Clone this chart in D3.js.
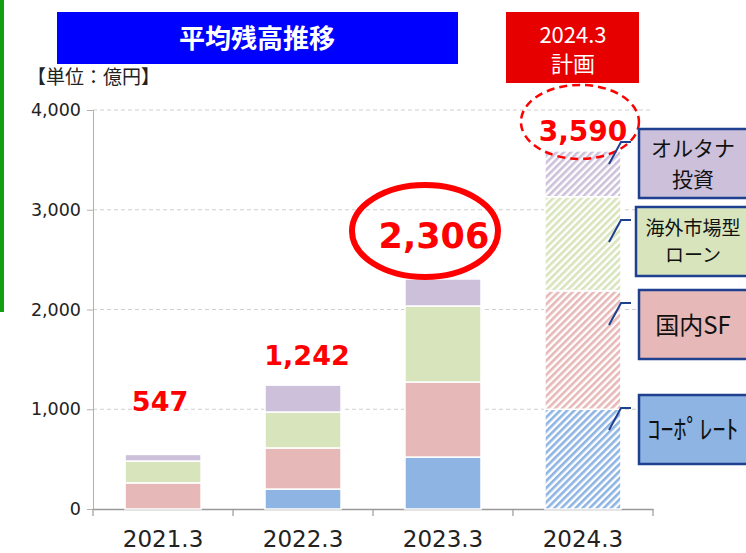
<!DOCTYPE html>
<html lang="ja">
<head>
<meta charset="utf-8">
<title>平均残高推移</title>
<script src="https://d3js.org/d3.v7.min.js"></script>
<style>
  body { margin: 0; background: #fff; }
  svg { display: block; }
</style>
</head>
<body>
<div id="chart"></div>
<script>
// data
var categories = ['2021.3', '2022.3', '2023.3', '2024.3'];
var seriesNames = ['コーポレート', '国内SF', '海外市場型ローン', 'オルタナ投資'];
var corporate = [0, 200, 521, 1000];
var domesticSF = [262, 412, 752, 1187];
var overseasLoan = [219, 360, 762, 943];
var alternative = [66, 270, 271, 460];
var totals = [547, 1242, 2306, 3590];
var yTicks = [0, 1000, 2000, 3000, 4000];
var planIndex = 3;       // hatched (plan) bar
var highlightIndex = 2;  // circled actual

var colors = ['#8db4e2', '#e6b8b7', '#d8e4bc', '#ccc0da'];
var jp = '"Noto Sans CJK JP", "Noto Sans", sans-serif';
var num = '"DejaVu Sans", Verdana, sans-serif';

var width = 746, height = 553;

var svg = d3.select('#chart').append('svg')
    .attr('width', width)
    .attr('height', height);

var defs = svg.append('defs');
colors.forEach(function(c, i) {
    var p = defs.append('pattern')
        .attr('id', 'hatch' + i)
        .attr('patternUnits', 'userSpaceOnUse')
        .attr('width', 5)
        .attr('height', 5)
        .attr('patternTransform', 'rotate(45)');
    p.append('rect').attr('width', 5).attr('height', 5).attr('fill', '#fff');
    p.append('rect').attr('width', 2.6).attr('height', 5).attr('fill', c);
});

// green side bar
svg.append('rect').attr('x', 0).attr('y', 0).attr('width', 4).attr('height', 312).attr('fill', '#12a012');

// title boxes
svg.append('rect').attr('x', 57).attr('y', 12).attr('width', 401).attr('height', 52).attr('fill', '#0000ff');
svg.append('text').attr('x', 257).attr('y', 48).attr('text-anchor', 'middle')
    .attr('font-family', jp).attr('font-weight', 'bold').attr('font-size', 26).attr('fill', '#fff')
    .text('平均残高推移');

svg.append('rect').attr('x', 506).attr('y', 12).attr('width', 133).attr('height', 71).attr('fill', '#e60000');
svg.append('text').attr('x', 573).attr('y', 43).attr('text-anchor', 'middle')
    .attr('font-family', jp).attr('font-size', 22).attr('fill', '#fff').text('2024.3');
svg.append('text').attr('x', 573).attr('y', 72).attr('text-anchor', 'middle')
    .attr('font-family', jp).attr('font-size', 22).attr('fill', '#fff').text('計画');

svg.append('text').attr('x', 27).attr('y', 84)
    .attr('font-family', jp).attr('font-size', 19).attr('fill', '#222')
    .text('【単位：億円】');

// scales
var x = d3.scaleBand().domain(categories).range([93, 653]).paddingInner(0.457).paddingOuter(0.229);
var y = d3.scaleLinear().domain([0, 4000]).range([509, 110]);

// gridlines
svg.append('g').selectAll('line')
    .data(yTicks.filter(function(d) { return d > 0; }))
    .enter().append('line')
    .attr('x1', 93).attr('x2', 650)
    .attr('y1', function(d) { return y(d); }).attr('y2', function(d) { return y(d); })
    .attr('stroke', '#cfcfcf').attr('stroke-width', 1).attr('stroke-dasharray', '4,3');

// y axis
var yAxis = svg.append('g').attr('transform', 'translate(93,0)')
    .call(d3.axisLeft(y).tickValues(yTicks).tickSize(6).tickPadding(6).tickFormat(d3.format(',')));
yAxis.select('.domain').attr('stroke', '#b0b0b0');
yAxis.selectAll('.tick line').attr('stroke', '#b0b0b0');
yAxis.selectAll('text').attr('font-family', num).attr('font-size', 17.5).attr('fill', '#222');

// x axis
var xAxis = svg.append('g').attr('transform', 'translate(0,509)')
    .call(d3.axisBottom(x).tickSize(0).tickPadding(22));
xAxis.select('.domain').attr('stroke', '#999').attr('stroke-width', 1.5);
xAxis.selectAll('text').attr('font-family', num).attr('font-size', 23).attr('fill', '#222');
var bounds = [93].concat(categories.map(function(c) { return x(c) + x.bandwidth() + x.step() * x.paddingInner() / 2; }));
bounds[bounds.length - 1] = 653;
svg.append('g').selectAll('line').data(bounds).enter().append('line')
    .attr('x1', function(d) { return d; }).attr('x2', function(d) { return d; })
    .attr('y1', 509).attr('y2', 516)
    .attr('stroke', '#999').attr('stroke-width', 1.2);

// stacked bars
var rows = categories.map(function(c, i) {
    return { cat: c, s0: corporate[i], s1: domesticSF[i], s2: overseasLoan[i], s3: alternative[i] };
});
var stack = d3.stack().keys(['s0', 's1', 's2', 's3'])(rows);

var bars = svg.append('g');
stack.forEach(function(layer, k) {
    bars.selectAll('.l' + k)
        .data(layer)
        .enter().append('rect')
        .attr('class', 'l' + k)
        .attr('x', function(d) { return x(d.data.cat); })
        .attr('width', x.bandwidth())
        .attr('y', function(d) { return y(d[1]); })
        .attr('height', function(d) { return Math.max(0, y(d[0]) - y(d[1])); })
        .attr('fill', function(d, i) { return i === planIndex ? 'url(#hatch' + k + ')' : colors[k]; })
        .attr('stroke', '#fff')
        .attr('stroke-width', 1.5);
});

// total labels
var labelShift = [[-3, -43], [4, -20], [-9, -31], [0, -10]];
var labelSize = [27, 27, 35, 28];
svg.append('g').selectAll('text')
    .data(totals)
    .enter().append('text')
    .attr('x', function(d, i) { return x(categories[i]) + x.bandwidth() / 2 + labelShift[i][0]; })
    .attr('y', function(d, i) { return y(d) + labelShift[i][1]; })
    .attr('text-anchor', 'middle')
    .attr('font-family', num).attr('font-weight', 'bold')
    .attr('font-size', function(d, i) { return labelSize[i]; })
    .attr('fill', '#f00')
    .text(function(d) { return d3.format(',')(d); });

// highlight ellipses
var hx = x(categories[highlightIndex]) + x.bandwidth() / 2;
svg.append('ellipse').attr('cx', hx - 18).attr('cy', y(totals[highlightIndex]) - 48)
    .attr('rx', 73).attr('ry', 46)
    .attr('fill', 'none').attr('stroke', '#f00').attr('stroke-width', 6);
var px = x(categories[planIndex]) + x.bandwidth() / 2;
svg.append('ellipse').attr('cx', px - 3).attr('cy', y(totals[planIndex]) - 29)
    .attr('rx', 59).attr('ry', 37)
    .attr('fill', 'none').attr('stroke', '#f00').attr('stroke-width', 2.5)
    .attr('stroke-dasharray', '8,5');

// legend callouts (series order)
var legendTop = [395, 290, 207, 129];
var legendLeft = [639, 639, 636, 639];
var legendLines = [['ｺｰﾎﾟﾚｰﾄ'], ['国内SF'], ['海外市場型', 'ローン'], ['オルタナ', '投資']];
var legendSize = [26, 24, 19, 21];
var legendGap = [0, 0, 27, 31];

var leg = svg.append('g');
seriesNames.forEach(function(name, k) {
    var top = legendTop[k];
    var hy = top + 13;
    leg.append('path')
        .attr('d', 'M' + 609 + ',' + (hy + 22) + 'L' + 621 + ',' + hy + 'L' + 631 + ',' + hy)
        .attr('fill', 'none').attr('stroke', '#1f3f8f').attr('stroke-width', 2);
    leg.append('rect')
        .attr('x', legendLeft[k]).attr('y', top).attr('width', 120).attr('height', 69)
        .attr('fill', colors[k]).attr('stroke', '#1f3f8f').attr('stroke-width', 2.5);
    var lines = legendLines[k];
    lines.forEach(function(t, j) {
        leg.append('text')
            .attr('x', 693)
            .attr('y', top + 35 + (j - (lines.length - 1) / 2) * legendGap[k])
            .attr('dy', '0.36em')
            .attr('text-anchor', 'middle')
            .attr('font-family', jp)
            .attr('font-size', legendSize[k])
            .attr('fill', '#111')
            .text(t);
    });
});
</script>
</body>
</html>
